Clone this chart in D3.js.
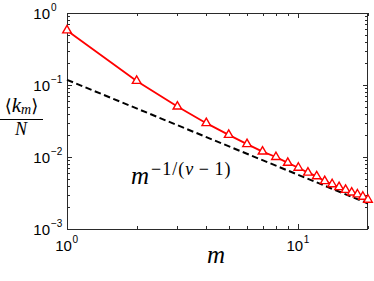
<!DOCTYPE html>
<html>
<head>
<meta charset="utf-8">
<script src="https://cdn.jsdelivr.net/npm/d3@7"></script>
<style>
  body { margin: 0; background: #fff; }
  svg { display: block; }
</style>
</head>
<body>
<svg id="chart" width="374" height="281"></svg>
<script>
// values
const mValues = [1, 2, 3, 4, 5, 6, 7, 8, 9, 10, 11, 12, 13, 14, 15, 16, 17, 18, 19, 20]
const kmOverN = [0.573, 0.114, 0.0502, 0.0295, 0.0203, 0.0151, 0.0119, 0.0100, 0.0083, 0.0071,
                 0.00607, 0.00540, 0.00462, 0.00419, 0.00381, 0.00349, 0.00321, 0.00302, 0.00281, 0.00255]
const fitM = [1, 20]
const fitValues = [0.118, 0.00226]
const xMajor = [1, 10]
const xMajorExp = ["0", "1"]
const xMinor = [2, 3, 4, 5, 6, 7, 8, 9, 20]
const yMajor = [1, 0.1, 0.01, 0.001]
const yMajorExp = ["0", "\u22121", "\u22122", "\u22123"]

const svg = d3.select("#chart")
const mLeft = 67, mRight = 368, mTop = 13, mBottom = 229

const x = d3.scaleLog().domain([1, 20]).range([mLeft, mRight])
const y = d3.scaleLog().domain([0.001, 1]).range([mBottom, mTop])

let yMinor = []
yMajor.slice(1).forEach(d => {
  for (let k = 2; k <= 9; k++) yMinor.push(d * k)
})

const axisColor = "#2a2a2a"
const ticks = svg.append("g").attr("stroke", axisColor).attr("stroke-width", 1)

// y ticks, both sides, pointing inwards
yMajor.forEach(d => {
  const yy = Math.round(y(d)) + 0.5
  ticks.append("line").attr("x1", mLeft).attr("x2", mLeft + 5).attr("y1", yy).attr("y2", yy)
  ticks.append("line").attr("x1", mRight - 5).attr("x2", mRight).attr("y1", yy).attr("y2", yy)
})
yMinor.forEach(d => {
  const yy = Math.round(y(d)) + 0.5
  ticks.append("line").attr("x1", mLeft).attr("x2", mLeft + 3).attr("y1", yy).attr("y2", yy)
  ticks.append("line").attr("x1", mRight - 3).attr("x2", mRight).attr("y1", yy).attr("y2", yy)
})
// x ticks, top and bottom
xMajor.forEach(d => {
  const xx = Math.round(x(d)) + 0.5
  ticks.append("line").attr("x1", xx).attr("x2", xx).attr("y1", mBottom).attr("y2", mBottom - 5)
  ticks.append("line").attr("x1", xx).attr("x2", xx).attr("y1", mTop).attr("y2", mTop + 5)
})
xMinor.forEach(d => {
  const xx = Math.round(x(d)) + 0.5
  ticks.append("line").attr("x1", xx).attr("x2", xx).attr("y1", mBottom).attr("y2", mBottom - 3)
  ticks.append("line").attr("x1", xx).attr("x2", xx).attr("y1", mTop).attr("y2", mTop + 3)
})

// frame
svg.append("rect")
  .attr("x", mLeft + 0.5).attr("y", mTop + 0.5)
  .attr("width", mRight - mLeft - 1).attr("height", mBottom - mTop)
  .attr("fill", "none").attr("stroke", axisColor).attr("stroke-width", 1)

// tick labels
const sans = "'Liberation Sans', Arial, Helvetica, sans-serif"
yMajor.forEach((d, i) => {
  const yy = y(d)
  svg.append("text").attr("x", 50).attr("y", yy + 5.5)
    .attr("text-anchor", "end").attr("font-family", sans).attr("font-size", 15)
    .text("10")
  svg.append("text").attr("x", 51).attr("y", yy - 2)
    .attr("font-family", sans).attr("font-size", 10)
    .text(yMajorExp[i])
})
xMajor.forEach((d, i) => {
  const xx = x(d)
  svg.append("text").attr("x", xx - 3.5).attr("y", 251)
    .attr("text-anchor", "middle").attr("font-family", sans).attr("font-size", 15)
    .text("10")
  svg.append("text").attr("x", xx + 5.5).attr("y", 243)
    .attr("font-family", sans).attr("font-size", 10)
    .text(xMajorExp[i])
})

// fitted power law, dashed
const line = d3.line().x(d => x(d[0])).y(d => y(d[1]))
svg.append("path")
  .datum(d3.zip(fitM, fitValues))
  .attr("d", line)
  .attr("fill", "none").attr("stroke", "#000").attr("stroke-width", 2)
  .attr("stroke-dasharray", "6.5,3.5")

// data series
const pts = d3.zip(mValues, kmOverN)
svg.append("path")
  .datum(pts)
  .attr("d", line)
  .attr("fill", "none").attr("stroke", "#ff0000").attr("stroke-width", 1.8)

const tri = d3.symbol().type(d3.symbolTriangle).size(32)
svg.selectAll("path.marker")
  .data(pts)
  .join("path")
  .attr("class", "marker")
  .attr("d", tri)
  .attr("transform", d => `translate(${x(d[0])},${y(d[1])})`)
  .attr("fill", "#fff").attr("stroke", "#ff0000").attr("stroke-width", 1.4)

// labels
const serif = "'Liberation Serif', 'DejaVu Serif', 'Times New Roman', serif"
svg.append("text").attr("x", 216).attr("y", 263)
  .attr("text-anchor", "middle").attr("font-family", serif)
  .attr("font-style", "italic").attr("font-size", 25)
  .text("m")

// y label as fraction
const yl = svg.append("g").attr("font-family", serif)
const num = yl.append("text").attr("x", 21.5).attr("y", 112).attr("text-anchor", "middle").attr("font-size", 21)
num.append("tspan").attr("font-family", "'DejaVu Serif', serif").attr("font-size", 18).text("\u27E8")
num.append("tspan").attr("font-style", "italic").text("k")
num.append("tspan").attr("font-style", "italic").attr("font-size", 14).attr("dy", 2).text("m")
num.append("tspan").attr("font-family", "'DejaVu Serif', serif").attr("font-size", 18).attr("dy", -2).text("\u27E9")
yl.append("line").attr("x1", 0).attr("x2", 43).attr("y1", 119.5).attr("y2", 119.5)
  .attr("stroke", "#000").attr("stroke-width", 1)
yl.append("text").attr("x", 21).attr("y", 135).attr("text-anchor", "middle")
  .attr("font-style", "italic").attr("font-size", 18).text("N")

// annotation
const ann = svg.append("text").attr("x", 131).attr("y", 184)
  .attr("font-family", serif).attr("font-size", 25)
ann.append("tspan").attr("font-style", "italic").text("m")
const sup = ann.append("tspan").attr("dy", -9).attr("font-size", 18).attr("letter-spacing", 1)
sup.append("tspan").attr("dx", 2).text("\u22121/(")
sup.append("tspan").attr("font-style", "italic").text("\u03BD")
sup.append("tspan").text("\u2009\u2212\u20091)")
</script>
</body>
</html>
